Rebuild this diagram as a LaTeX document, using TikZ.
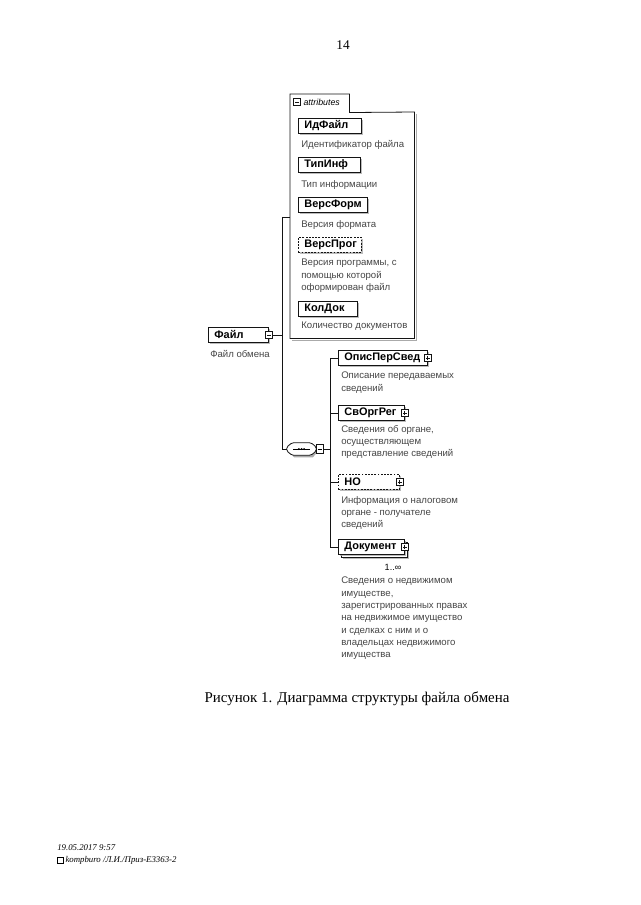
\documentclass[tikz,border=0pt]{standalone}
\usepackage{fontspec}
\usepackage{xcolor}
\setmainfont{Liberation Serif}
\newfontfamily\diafont{Liberation Sans}
\usetikzlibrary{positioning, shadows, calc}
\definecolor{colLine}  {RGB}{ 20,  20,  20}
\definecolor{colDesc}  {RGB}{ 70,  70,  70}
\definecolor{colShade} {RGB}{170, 170, 170}
\newcommand{\elfont}{\diafont\bfseries\fontsize{8.2}{9}\selectfont}
\newcommand{\descfont}{\diafont\fontsize{7.2}{9.2}\selectfont}
\tikzset{
  elem/.style={
    rectangle, draw=colLine, fill=white, line width=0.6pt,
    anchor=north west, font=\elfont,
    inner xsep=4.5pt, inner ysep=0pt, minimum height=11.25pt,
    text width=#1, align=left,
    drop shadow={shadow xshift=1.5pt, shadow yshift=-1.5pt, fill=colShade, opacity=0.8}
  },
  optelem/.style={
    elem=#1, dash pattern=on 1.4pt off 1pt
  },
  desc/.style={
    anchor=north west, font=\descfont, text=colDesc,
    align=left, inner sep=0pt
  },
  plusicon/.style={
    rectangle, draw=colLine, fill=white, line width=0.5pt,
    minimum size=5pt, inner sep=0pt,
    path picture={
      \draw[line width=0.5pt] ([xshift=1pt]path picture bounding box.west) -- ([xshift=-1pt]path picture bounding box.east);
      \draw[line width=0.5pt] ([yshift=-1pt]path picture bounding box.north) -- ([yshift=1pt]path picture bounding box.south);
    }
  },
  minusicon/.style={
    rectangle, draw=colLine, fill=white, line width=0.5pt,
    minimum size=5pt, inner sep=0pt,
    path picture={
      \draw[line width=0.5pt] ([xshift=1pt]path picture bounding box.west) -- ([xshift=-1pt]path picture bounding box.east);
    }
  },
  link/.style={draw=colLine, line width=0.6pt},
}

\begin{document}
\begin{tikzpicture}[x=0.75pt, y=-0.75pt]

\fill[white] (0,0) rectangle (640,905);
\useasboundingbox (0,0) rectangle (640,905);

%% ══════════════════════════════════════════════════════════════
%%  PAGE NUMBER
%% ══════════════════════════════════════════════════════════════
\node[font=\fontsize{10}{12}\selectfont] (pagenum) at (343,45) {14};

%% ══════════════════════════════════════════════════════════════
%%  ROOT ELEMENT
%% ══════════════════════════════════════════════════════════════
\node[elem=36pt] (fayl) at (208,327) {Файл};
\node[minusicon] (fayl-m) at (fayl.east) {};
\node[desc] (fayl-d) at (210,350) {Файл обмена};

%% ══════════════════════════════════════════════════════════════
%%  ATTRIBUTES PANEL
%% ══════════════════════════════════════════════════════════════
\node[anchor=north west, minimum width=44.25pt, minimum height=13.5pt, inner sep=0pt] (attrtab) at (290,94) {};
\node[anchor=north west, minimum width=93pt, minimum height=169.5pt, inner sep=0pt] (attrbox) at (290,112) {};
\draw[colShade, line width=1.2pt] ([xshift=1.5pt,yshift=-1.5pt]attrbox.north east) -- ([xshift=1.5pt,yshift=-1.5pt]attrbox.south east) -- ([xshift=1.5pt,yshift=-1.5pt]attrbox.south west);
\draw[link] (attrbox.south west) -- (attrtab.north west) -- (attrtab.north east)
  -- (attrtab.south east) -- (attrbox.north east) -- (attrbox.south east) -- cycle;
\node[minusicon] (attr-m) at (297,102) {};
\node[anchor=west, font=\diafont\itshape\fontsize{6.6}{8}\selectfont, inner sep=0pt,
      right=2pt of attr-m] (attr-t) {attributes};

% attribute entries
\node[elem=38pt] (idfayl) at (298,118) {ИдФайл};
\node[desc] (idfayl-d) at (301,140) {Идентификатор файла};

\node[elem=37.5pt] (tipinf) at (298,157) {ТипИнф};
\node[desc] (tipinf-d) at (301,180) {Тип информации};

\node[elem=42.75pt] (versform) at (298,197) {ВерсФорм};
\node[desc] (versform-d) at (301,220) {Версия формата};

\node[optelem=38pt] (versprog) at (298,237) {ВерсПрог};
\node[desc] (versprog-d) at (301,259)
  {Версия программы, с\\помощью которой\\оформирован файл};

\node[elem=35pt] (koldok) at (298,301) {КолДок};
\node[desc] (koldok-d) at (301,322) {Количество документов};

%% ══════════════════════════════════════════════════════════════
%%  SEQUENCE
%% ══════════════════════════════════════════════════════════════
\node[minimum width=21.75pt, minimum height=9pt, inner sep=0pt] (seq) at (301.5,449) {};
\fill[colShade] ([xshift=1.5pt,yshift=-1.5pt]seq.west)
  -- ([xshift=5.5pt,yshift=-1.5pt]seq.north west) -- ([xshift=-2.5pt,yshift=-1.5pt]seq.north east)
  -- ([xshift=1.5pt,yshift=-1.5pt]seq.east) -- ([xshift=-2.5pt,yshift=-1.5pt]seq.south east)
  -- ([xshift=5.5pt,yshift=-1.5pt]seq.south west) -- cycle;
\draw[link, fill=white, rounded corners=1.2pt] ([yshift=1.5pt]seq.west)
  -- ([xshift=4pt]seq.north west) -- ([xshift=-4pt]seq.north east)
  -- ([yshift=1.5pt]seq.east) -- ([yshift=-1.5pt]seq.east)
  -- ([xshift=-4pt]seq.south east) -- ([xshift=4pt]seq.south west)
  -- ([yshift=-1.5pt]seq.west) -- cycle;
\draw[line width=0.5pt] ([xshift=5pt]seq.west) -- ([xshift=-5pt]seq.east);
\foreach \d in {-2pt,0pt,2pt}
  \fill ([xshift=\d]seq.center) circle (0.75pt);
\node[rectangle, draw=colLine, fill=white, line width=0.5pt,
      minimum width=5pt, minimum height=7pt, inner sep=0pt,
      right=0pt of seq] (seq-m) {};
\draw[line width=0.5pt] ([xshift=1pt]seq-m.west) -- ([xshift=-1pt]seq-m.east);

% children
\node[elem=57.75pt] (opis) at (338,350) {ОписПерСвед};
\node[plusicon] (opis-p) at (opis.east) {};
\node[desc] (opis-d) at (341,372) {Описание передаваемых\\сведений};

\node[elem=40.5pt] (svorg) at (338,405) {СвОргРег};
\node[plusicon] (svorg-p) at (svorg.east) {};
\node[desc] (svorg-d) at (341,425)
  {Сведения об органе,\\осуществляющем\\представление сведений};

\node[optelem=36.75pt] (no) at (338,474) {НО};
\node[plusicon] (no-p) at (no.east) {};
\node[desc] (no-d) at (341,496)
  {Информация о налоговом\\органе - получателе\\сведений};

\node[elem=40.5pt] (doc-back) at (341,542) {\phantom{Документ}};
\node[elem=40.5pt] (doc) at (338,539) {Документ};
\node[plusicon] (doc-p) at (doc.east) {};
\node[font=\diafont\fontsize{6.8}{8}\selectfont, inner sep=0pt] (doc-n) at (393,567) {1..∞};
\node[desc] (doc-d) at (341,577)
  {Сведения о недвижимом\\имуществе,\\зарегистрированных правах\\на недвижимое имущество\\и сделках с ним и о\\владельцах недвижимого\\имущества};

%% ── connectors ──────────────────────────────────────────────
\coordinate (trunk1) at (282,217);
\coordinate (trunk2) at (330,449);

\draw[link] (trunk1) -- (trunk1 |- seq.west) -- (seq.west);
\draw[link] (trunk1) -- (trunk1 -| attrbox.west);
\draw[link] (fayl-m.east) -- (fayl-m.east -| trunk1);

\draw[link] (seq-m.east) -- (trunk2);
\draw[link] (trunk2 |- opis.west) -- (trunk2 |- doc.west);
\foreach \n in {opis,svorg,no,doc}
  \draw[link] (trunk2 |- \n.west) -- (\n.west);

%% ══════════════════════════════════════════════════════════════
%%  CAPTION & FOOTER
%% ══════════════════════════════════════════════════════════════
\node[font=\fontsize{11.2}{13}\selectfont] (caption) at (357,699)
  {Рисунок 1. Диаграмма структуры файла обмена};

\node[anchor=west, font=\itshape\fontsize{6.6}{8}\selectfont, inner sep=0pt] (stamp) at (57,848) {19.05.2017 9:57};
\node[rectangle, draw, line width=0.4pt, minimum size=4.5pt, inner sep=0pt] (disk) at (60,860) {};
\node[anchor=west, font=\itshape\fontsize{6.6}{8}\selectfont, inner sep=0pt,
      right=1.5pt of disk] (path) {kompburo /Л.И./Приз-Е3363-2};

\end{tikzpicture}
\end{document}
